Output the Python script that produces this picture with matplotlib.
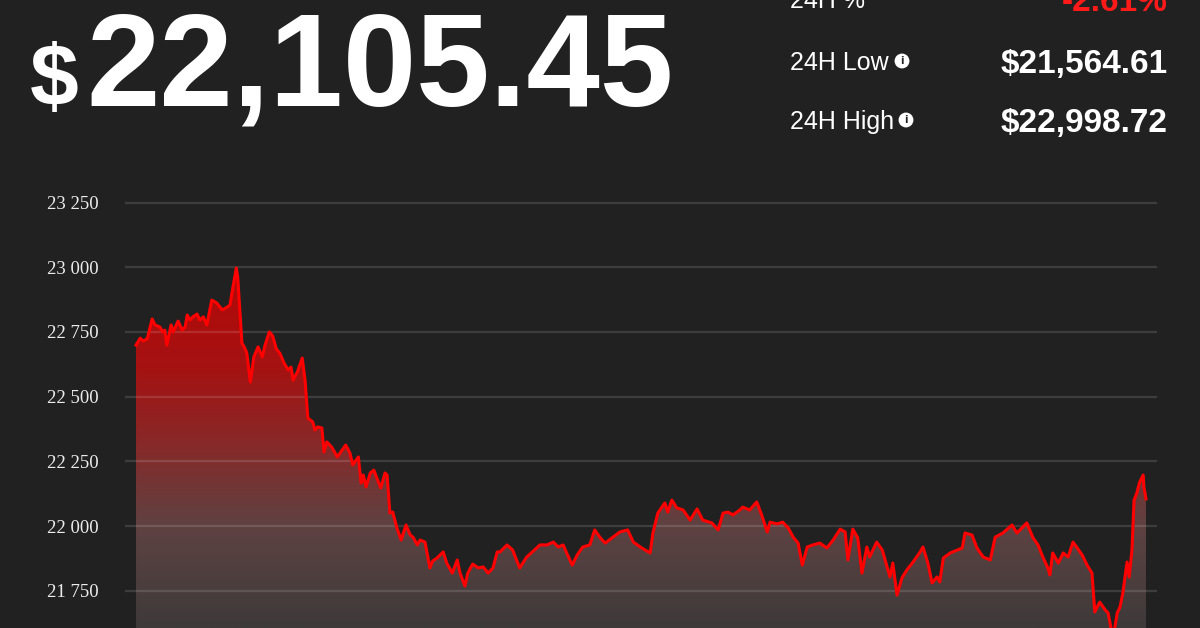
import matplotlib.pyplot as plt
import numpy as np
from matplotlib.colors import LinearSegmentedColormap
from matplotlib.ticker import FuncFormatter

# 24h price trace, minutes since start of window
minutes = [0, 6, 10, 16, 23, 27, 34, 38, 41, 44, 50, 53, 60, 66, 70, 73, 77, 81, 87, 91,
           96, 101, 108, 115, 123, 130, 134, 137, 143, 145, 151, 155, 158, 163, 168, 174, 180, 184, 190, 195,
           200, 205, 211, 217, 221, 224, 230,
           237, 241, 245, 252, 255, 259, 265, 268, 272, 279, 287, 294, 299, 305, 309, 317, 321, 324, 328, 334,
           339, 349, 355, 358, 362, 366, 372, 378, 385, 391, 395, 401, 405, 412, 419, 423, 429, 438, 443, 451,
           458, 462, 469, 473, 480, 488, 495, 502, 509, 515,
           519, 529, 537, 547, 557, 565, 576, 586, 595, 602, 609, 614, 622, 629, 637, 647, 654, 662, 669, 680,
           690, 701, 709, 719, 726, 733, 737, 744, 754, 758, 764, 771, 780, 790, 800, 808, 821, 830, 837, 844,
           851, 861, 865, 875, 885, 892, 900, 904, 914, 922, 930,
           937, 944, 950, 957, 965, 975, 985, 994, 1004, 1011, 1015, 1022, 1029, 1035, 1042, 1046, 1056, 1064,
           1068, 1075, 1079, 1085, 1092, 1099, 1108, 1118, 1122, 1129, 1135, 1142, 1146, 1151, 1161, 1171, 1178,
           1182, 1192, 1199, 1208, 1218, 1225, 1236, 1249, 1256, 1263, 1270, 1279, 1286, 1293, 1300, 1303, 1307,
           1315, 1322, 1329, 1336, 1342, 1349, 1356, 1363, 1367, 1374, 1382, 1386, 1393, 1399, 1403, 1407, 1413,
           1416, 1420, 1423, 1427, 1431, 1436, 1437, 1440]
price = [22699, 22726, 22715, 22723, 22800, 22777, 22769, 22750, 22757, 22699, 22777, 22750, 22792, 22757,
         22769, 22815, 22796, 22808, 22819, 22796, 22808, 22777, 22873, 22862, 22835, 22846, 22854, 22904,
         22997, 22962, 22707, 22688, 22668, 22556, 22653, 22692, 22653, 22699, 22750, 22734, 22684, 22668,
         22630, 22603, 22614, 22564, 22595,
         22649, 22564, 22417, 22402, 22371, 22383, 22379, 22286, 22325, 22305, 22267, 22294, 22313, 22282,
         22236, 22267, 22166, 22197, 22151, 22205, 22216, 22147, 22205, 22197, 22050, 22054, 21992, 21946,
         22004, 21965, 21957, 21927, 21946, 21938, 21838, 21865, 21876, 21900, 21857, 21818, 21869, 21818,
         21768, 21818, 21853, 21838, 21842, 21818, 21838, 21900,
         21900, 21927, 21907, 21838, 21880, 21900, 21927, 21927, 21938, 21919, 21927, 21896, 21849, 21888,
         21919, 21927, 21985, 21954, 21934, 21957, 21977, 21985, 21938, 21919, 21907, 21896, 21973, 22050,
         22089, 22054, 22100, 22070, 22062, 22023, 22066, 22023, 22012, 21985, 22050, 22054, 22043, 22062,
         22073, 22062, 22093, 22043, 21977, 22015, 22008, 22015, 21992,
         21957, 21934, 21849, 21919, 21927, 21934, 21915, 21946, 21988, 21977, 21869, 21988, 21954, 21818,
         21919, 21880, 21938, 21907, 21869, 21803, 21857, 21733, 21799, 21830, 21861, 21900, 21919, 21857,
         21780, 21803, 21784, 21876, 21896, 21907, 21915, 21973, 21965, 21915, 21880, 21869, 21957, 21973,
         22004, 21973, 21992, 22012, 21954, 21927, 21880, 21838, 21811, 21896, 21857, 21896, 21880, 21938,
         21915, 21888, 21849, 21818, 21668, 21706, 21675, 21664, 21565, 21664, 21687, 21741, 21861, 21803,
         21907, 22100, 22128, 22170, 22197, 22151, 22105]

yticks = [21750, 22000, 22250, 22500, 22750, 23000, 23250]
last_price = '22,105.45'
stats = [('24H %', '-2.61%'), ('24H Low', '$21,564.61'), ('24H High', '$22,998.72')]

BG = '#212121'
W, H = 1200, 628

fig = plt.figure(figsize=(W / 100, H / 100), dpi=100, facecolor=BG)

def fy(py):
    return 1 - py / H

# header
fig.text(30 / W, fy(106), '$', color='white', fontsize=63, fontweight='bold',
         family='Liberation Sans', va='baseline', ha='left')
fig.text(86 / W, fy(106), last_price, color='white', fontsize=95, fontweight='bold',
         family='Liberation Sans', va='baseline', ha='left')

base = [8, 70, 129]
for (lab, val), by in zip(stats, base):
    fig.text(790 / W, fy(by), lab, color='white', fontsize=18, family='Liberation Sans',
             va='baseline', ha='left')
    vcol = '#ff1a1a' if val.startswith('-') else 'white'
    fig.text(1168 / W, fy(by + 3), val, color=vcol, fontsize=24, fontweight='bold',
             family='Liberation Sans', va='baseline', ha='right')
for lab, cx, cy in [('24H Low', 902, 61), ('24H High', 906, 120)]:
    fig.text(cx / W, fy(cy), 'i', color=BG, fontsize=7, fontweight='bold', family='DejaVu Sans',
             ha='center', va='center',
             bbox=dict(boxstyle='circle,pad=0.25', fc='white', ec='none'))

# chart
ax = fig.add_axes([125 / W, 0, (1157 - 125) / W, (628 - 195) / H])
ax.set_facecolor(BG)
ymin, ymax = 21606, 23279

cmap = LinearSegmentedColormap.from_list('fade', [
    (0.0, '#3e3a3a'), (0.28, '#5e4242'), (0.5, '#862a2a'), (0.72, '#a51212'), (1.0, '#b40808')])
grad = np.linspace(0, 1, 256).reshape(-1, 1)
poly = ax.fill_between(minutes, price, 21400, facecolor='none', edgecolor='none')
im = ax.imshow(grad, extent=[minutes[0], minutes[-1], ymin, 23000], origin='lower',
               aspect='auto', cmap=cmap, zorder=1)
im.set_clip_path(poly.get_paths()[0], transform=ax.transData)
ax.set_ylim(ymin, ymax)
ax.set_xlim(-15.7, 1455.7)

for v in yticks:
    ax.axhline(v, color='white', alpha=0.13, lw=1.6, zorder=2)

ax.plot(minutes, price, color='#ff0000', lw=2.2, zorder=3, solid_joinstyle='round')

ax.set_yticks(yticks)
ax.yaxis.set_major_formatter(FuncFormatter(lambda v, p: f'{int(v):,}'.replace(',', ' ')))
ax.tick_params(axis='y', length=0, pad=19, labelcolor='#ececec', labelsize=13.5)
for t in ax.get_yticklabels():
    t.set_family('Liberation Serif')
ax.set_xticks([])
for s in ax.spines.values():
    s.set_visible(False)

fig.savefig('out.png', dpi=100, facecolor=BG)
